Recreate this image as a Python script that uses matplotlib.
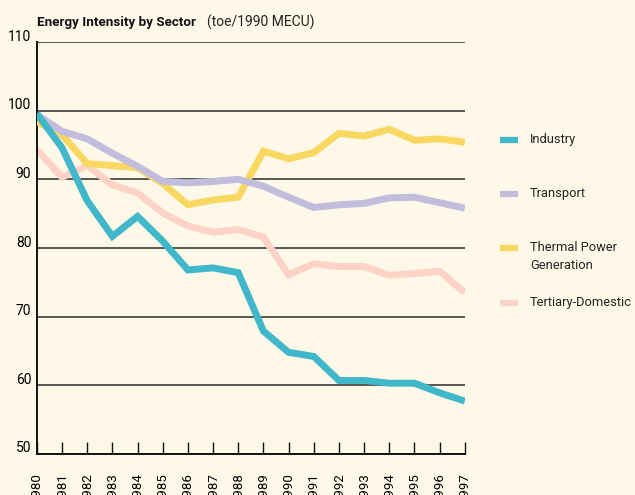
import matplotlib.pyplot as plt
from matplotlib.lines import Line2D
from matplotlib.transforms import ScaledTranslation

years = list(range(1980, 1998))
industry = [99.6, 94.6, 86.9, 81.7, 84.6, 81.0, 76.8, 77.1, 76.4, 67.9,
            64.8, 64.2, 60.7, 60.7, 60.3, 60.3, 58.9, 57.7]
transport = [99.4, 97.0, 95.9, 93.8, 91.9, 89.7, 89.5, 89.7, 90.0, 89.0,
             87.4, 85.9, 86.3, 86.5, 87.3, 87.4, 86.6, 85.8]
thermal = [98.4, 96.5, 92.3, 92.0, 91.7, 89.4, 86.3, 87.0, 87.4, 94.1,
           93.0, 93.9, 96.7, 96.3, 97.3, 95.7, 95.9, 95.4]
tertiary = [94.3, 90.3, 92.0, 89.2, 88.0, 85.1, 83.2, 82.3, 82.7, 81.6,
            76.1, 77.7, 77.3, 77.3, 76.0, 76.3, 76.6, 73.5]

labels = ["Industry", "Transport", "Thermal Power\nGeneration", "Tertiary-Domestic"]
colors = ["#41b7ca", "#c2bcdd", "#f9d862", "#fcd3c6"]
series = [industry, transport, thermal, tertiary]
yticks = [50, 60, 70, 80, 90, 100, 110]

bg = "#fef8e8"
plt.rcParams['font.family'] = ['Roboto', 'DejaVu Sans']

fig = plt.figure(figsize=(6.35, 4.95), dpi=100, facecolor=bg)
ax = fig.add_axes([0.058, 0.083, 0.674, 0.832], facecolor=bg)

for y in yticks[1:]:
    ax.axhline(y, color="#2a2a2a", lw=1.1, zorder=1)

# draw order: tertiary, thermal, transport, industry on top
for i in [3, 2, 1, 0]:
    ax.plot(years, series[i], color=colors[i], lw=5, solid_joinstyle='miter',
            solid_capstyle='butt', zorder=2 + (3 - i))

ax.set_xlim(1980, 1997)
ax.set_ylim(50, 110)
for s in ["top", "right"]:
    ax.spines[s].set_visible(False)
for s in ["left", "bottom"]:
    ax.spines[s].set_color("#111111")
    ax.spines[s].set_linewidth(1.4)

ax.set_xticks(years)
ax.set_xticklabels([str(y) for y in years], rotation=90, fontsize=9.5, va='top')
ax.tick_params(axis='x', direction='in', length=9, width=1, color="#111111", pad=13)
ax.set_yticks(yticks)
ax.set_yticklabels([str(y) for y in yticks], fontsize=10)
ax.tick_params(axis='y', length=0, pad=4)
off = ScaledTranslation(0, 5 / 72, fig.dpi_scale_trans)
for lab in ax.get_yticklabels():
    lab.set_transform(lab.get_transform() + off)

fig.text(0.058, 0.955, "Energy Intensity by Sector", fontsize=9.6,
         fontweight='bold', va='center', ha='left', color="#111111")
fig.text(207 / 635, 0.955, "(toe/1990 MECU)", fontsize=10, va='center', ha='left',
         color="#222222")

swatch_y = [140, 194, 248, 303]
for lab, col, sy in zip(labels, colors, swatch_y):
    yf = 1 - sy / 495
    fig.add_artist(Line2D([500 / 635, 518 / 635], [yf, yf], color=col, lw=4.5,
                          solid_capstyle='butt', transform=fig.transFigure))
    fig.text(530 / 635, yf + 7 / 495, lab, fontsize=9.3, va='top', ha='left',
             color="#222222", linespacing=1.5)

fig.savefig("out.png", dpi=100, facecolor=bg)
